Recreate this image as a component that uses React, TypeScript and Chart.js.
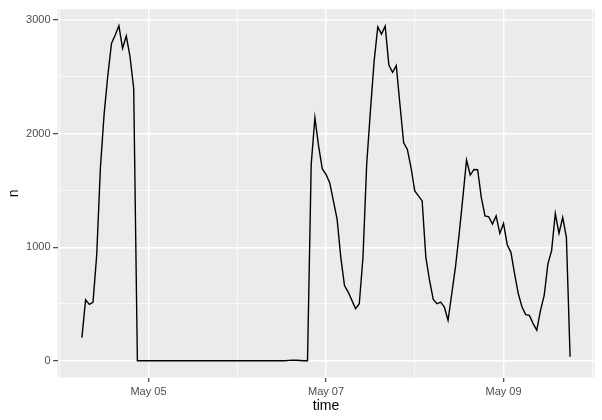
import React, { useEffect, useRef } from "react";
import { Chart, registerables } from "chart.js";

Chart.register(...registerables);

// time axis: hours after May 04 00:00, one reading per hour
const FIRST_HOUR = 6; // May 04 06:00

// May 04 06:00 – May 04 21:00
const peakMay04 = [204, 537, 497, 514, 930, 1700, 2170, 2510, 2795, 2870, 2950, 2752, 2860, 2680, 2400, 0];
// May 04 22:00 – May 06 18:00
const quietSpell = [
  0, 0, 0, 0, 0, 0, 0, 0, 0, 0, 0, 0, 0, 0, 0, 0, 0, 0, 0, 0,
  0, 0, 0, 0, 0, 0, 0, 0, 0, 0, 0, 0, 0, 0, 0, 0, 0, 0, 0, 0,
  3, 5, 4, 2, 0,
];
// May 06 19:00 – May 06 23:00
const may06Evening = [0, 1730, 2140, 1890, 1690];
// May 07 00:00 – 23:00
const may07 = [1642, 1569, 1408, 1247, 911, 663, 605, 532, 459, 502, 911, 1729, 2197, 2635, 2941, 2877, 2947, 2605, 2541, 2600, 2255, 1919, 1861, 1700];
// May 08 00:00 – 23:00
const may08 = [1496, 1452, 1408, 911, 707, 540, 502, 517, 473, 356, 590, 824, 1116, 1437, 1767, 1636, 1685, 1683, 1437, 1276, 1268, 1204, 1276, 1122];
// May 09 00:00 – 18:00
const may09 = [1209, 1022, 955, 765, 590, 473, 406, 400, 327, 269, 444, 575, 853, 970, 1297, 1122, 1262, 1087, 35];

const counts = [...peakMay04, ...quietSpell, ...may06Evening, ...may07, ...may08, ...may09];

const dayTickHours = [0, 24, 48, 72, 96, 120, 144];
const dayTickLabels = ["", "May 05", "", "May 07", "", "May 09", ""];
const yTickValues = [0, 500, 1000, 1500, 2000, 2500, 3000];
const yTickLabels = ["0", "", "1000", "", "2000", "", "3000"];

const FAMILY = "'Liberation Sans', Arial, Helvetica, sans-serif";

const panelBg = {
  id: "panelBg",
  beforeDraw(chart: any) {
    const { ctx, chartArea: a } = chart;
    ctx.save();
    ctx.fillStyle = "#EBEBEB";
    ctx.fillRect(a.left, a.top, a.right - a.left, a.bottom - a.top);
    ctx.restore();
  },
};

export default function App() {
  const ref = useRef<HTMLCanvasElement>(null);

  useEffect(() => {
    document.body.style.margin = "0";
    const canvas = ref.current;
    if (!canvas) return;
    const points = counts.map((v, i) => ({ x: FIRST_HOUR + i, y: v }));
    const tickFont = { family: FAMILY, size: 11 };
    const titleFont = { family: FAMILY, size: 14 };
    const chart = new Chart(canvas, {
      type: "line",
      data: {
        datasets: [
          {
            data: points,
            borderColor: "#000000",
            borderWidth: 1.4,
            pointRadius: 0,
            tension: 0,
            fill: false,
          },
        ],
      },
      plugins: [panelBg],
      options: {
        animation: false,
        responsive: false,
        maintainAspectRatio: false,
        layout: { padding: { top: 6.7, right: 7.5, left: 0, bottom: 0 } },
        plugins: { legend: { display: false }, tooltip: { enabled: false } },
        scales: {
          x: {
            type: "linear",
            min: -0.6,
            max: 144.6,
            afterBuildTicks: (s: any) => {
              s.ticks = dayTickHours.map((v) => ({ value: v }));
            },
            afterFit: (s: any) => {
              s.height = 42.5;
            },
            ticks: {
              callback: (_v: any, i: number) => dayTickLabels[i],
              color: "#4D4D4D",
              font: tickFont,
              padding: 3,
              maxRotation: 0,
              autoSkip: false,
            },
            grid: {
              color: "#FFFFFF",
              lineWidth: (c: any) => (dayTickLabels[c.index] ? 1.4 : 0.7),
              tickLength: 4.5,
              tickWidth: 1.1,
              tickColor: (c: any) => (dayTickLabels[c.index] ? "#333333" : "rgba(0,0,0,0)"),
            },
            border: { display: false },
            title: {
              display: true,
              text: "time",
              color: "#000000",
              font: titleFont,
              padding: { top: 0, bottom: 5.6 },
            },
          },
          y: {
            type: "linear",
            min: -147.5,
            max: 3097.5,
            afterBuildTicks: (s: any) => {
              s.ticks = yTickValues.map((v) => ({ value: v }));
            },
            afterFit: (s: any) => {
              s.width = 57.5;
            },
            ticks: {
              callback: (_v: any, i: number) => yTickLabels[i],
              color: "#4D4D4D",
              font: tickFont,
              padding: 2.5,
              autoSkip: false,
            },
            grid: {
              color: "#FFFFFF",
              lineWidth: (c: any) => (yTickLabels[c.index] ? 1.4 : 0.7),
              tickLength: 4.5,
              tickWidth: 1.1,
              tickColor: (c: any) => (yTickLabels[c.index] ? "#333333" : "rgba(0,0,0,0)"),
            },
            border: { display: false },
            title: {
              display: true,
              text: "n",
              color: "#000000",
              font: titleFont,
              padding: { top: 5.6, bottom: 0 },
            },
          },
        },
      },
    });
    return () => chart.destroy();
  }, []);

  return <canvas ref={ref} width={602} height={420} style={{ display: "block" }} />;
}
